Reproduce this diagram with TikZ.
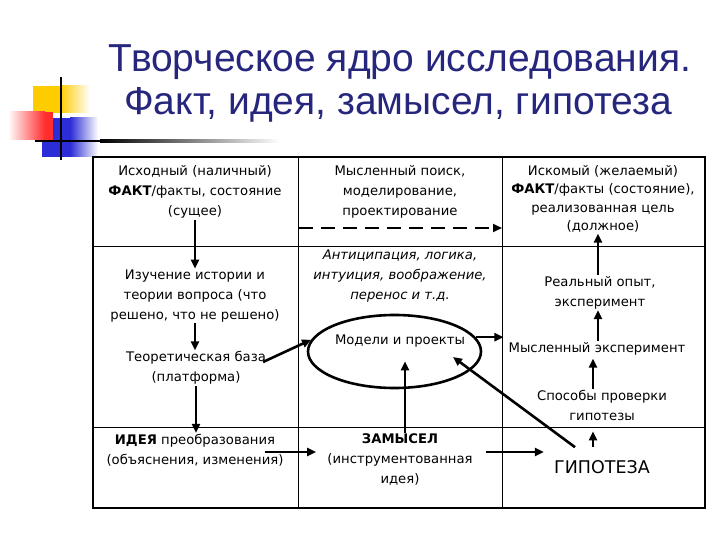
\documentclass[tikz,border=0pt]{standalone}
\usepackage{fontspec}
\setmainfont{DejaVu Sans}
\newfontfamily\titlefont{Liberation Sans}
\usetikzlibrary{arrows.meta,shapes.geometric,calc}
\definecolor{titleblue}{RGB}{38,38,125}
\definecolor{decoyellow}{RGB}{255,204,0}
\definecolor{decored}{RGB}{255,45,45}
\definecolor{decoblue}{RGB}{45,45,215}
\tikzset{
  cell/.style={font=\fontsize{13.2}{20}\selectfont, align=center, inner sep=1pt},
  arr/.style={draw=black, line width=2.6pt, -{Triangle[length=9pt,width=8pt]}},
  gridline/.style={line width=0.8pt},
  frame/.style={line width=2.6pt},
  titletext/.style={font=\titlefont\fontsize{39}{43}\selectfont, text=titleblue, inner sep=0pt, anchor=base},
}
\begin{document}
\begin{tikzpicture}[x=1pt,y=-1pt]
\useasboundingbox (0,0) rectangle (720,540);
\fill[white] (0,0) rectangle (720,540);
% decoration
\fill[decoyellow] (33,86) rectangle (60,113);
\shade[left color=decoyellow, right color=white] (60,86) rectangle (90,113);
\fill[decoblue] (42,118) rectangle (70,157);
\shade[left color=decoblue, right color=white] (70,118) rectangle (98,157);
\shade[left color=white, right color=decored] (8,112) rectangle (45,140);
\fill[decored] (45,112) rectangle (53,140);
\fill[black] (35,139.8) rectangle (100,142.2);
\shade[left color=black, right color=white] (100,139.8) rectangle (280,142.2);
\draw[line width=2pt] (61,77) -- (61,160);
% title
\node[titletext] (t1) at (400,72) {Творческое ядро исследования.};
\node[titletext] (t2) at (398,115) {Факт, идея, замысел, гипотеза};
% table
\draw[gridline] (298,157) -- (298,508) (502,157) -- (502,508)
  (93,246) -- (705,246) (93,427) -- (705,427);
\draw[frame] (93,157) rectangle (705,508);
% nodes
\node[cell] (f1) at (195,192) {Исходный (наличный)\\\textbf{ФАКТ}/факты, состояние\\(сущее)};
\node[cell] (iz) at (195,296) {Изучение истории и\\теории вопроса (что\\решено, что не решено)};
\node[cell] (tb) at (196,368) {Теоретическая база\\(платформа)};
\node[cell] (idea) at (195,450) {\textbf{ИДЕЯ} преобразования\\(объяснения, изменения)};
\node[cell] (ms) at (400,192) {Мысленный поиск,\\моделирование,\\проектирование};
\node[cell, font=\fontsize{13.2}{20}\selectfont\itshape] (an) at (400,276) {Антиципация, логика,\\интуиция, воображение,\\перенос и т.д.};
\node[draw, ellipse, line width=2.6pt, minimum width=173pt, minimum height=73pt, inner sep=0pt] (el) at (394.5,351.5) {};
\node[cell] (mp) at (400,341) {Модели и проекты};
\node[cell] (zam) at (400,460) {\textbf{ЗАМЫСЕЛ}\\(инструментованная\\идея)};
\node[cell, font=\fontsize{13.2}{18.3}\selectfont] (isk) at (603,199) {Искомый (желаемый)\\\textbf{ФАКТ}/факты (состояние),\\реализованная цель\\(должное)};
\node[cell] (ro) at (600,292.5) {Реальный опыт,\\эксперимент};
\node[cell] (me) at (597,349) {Мысленный эксперимент};
\node[cell] (sp) at (602,405) {Способы проверки\\гипотезы};
\node[cell, font=\fontsize{17.5}{20}\selectfont] (gip) at (602,467) {ГИПОТЕЗА};
\coordinate (dl) at (299,228);
\coordinate (dr) at (502,228);
\coordinate (elin) at (453,357);
% connectors
\draw[arr, dash pattern=on 14pt off 8pt] (dl) -- (dr);
\draw[arr] (f1.south) -- (iz.north);
\draw[arr] (iz.south) -- (iz.south |- tb.north);
\draw[arr] (tb.south) -- (tb.south |- idea.north);
\draw[arr] ($(tb.east)+(-4,-6)$) -- (el.172);
\draw[arr] ($(idea.east)+(-20,2)$) -- ($(zam.west |- idea.east)+(-10,2)$);
\draw[arr] ($(zam.east)+(12,-8)$) -- ($(gip.west)+(-9,-15)$);
\draw[arr] (el.10) -- ($(el.10 -| me.west)+(-4,0)$);
\draw[arr] ($(gip.north)+(-27,-12)$) -- (elin);
\draw[arr] ($(zam.north)+(5,0)$) -- ($(mp.south)+(5,13)$);
\draw[arr] ($(gip.north)+(-9,-12)$) -- ($(sp.south)+(-9,10)$);
\draw[arr] ($(sp.north)+(-9,0)$) -- ($(me.south)+(-4,2)$);
\draw[arr] ($(me.north)+(1,0)$) -- ($(ro.south)+(-2,0)$);
\draw[arr] ($(ro.north)+(-2,0)$) -- ($(isk.south)+(-5,0)$);
\end{tikzpicture}
\end{document}
